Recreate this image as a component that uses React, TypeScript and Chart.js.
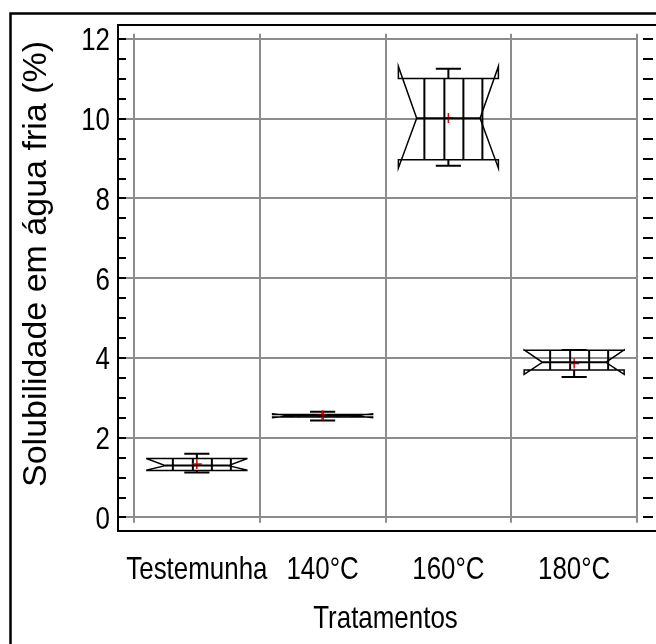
import React, { useEffect, useRef } from 'react';
import { Chart, registerables } from 'chart.js';

Chart.register(...registerables);

const categories = ['Testemunha', '140°C', '160°C', '180°C'];
const positions = [0.5, 1.5, 2.5, 3.5];
const whiskerLow = [1.13, 2.43, 8.82, 3.52];
const q1 = [1.18, 2.52, 8.97, 3.7];
const median = [1.3, 2.55, 10.01, 3.89];
const q3 = [1.48, 2.58, 11.01, 4.19];
const whiskerHigh = [1.6, 2.65, 11.25, 4.2];
const notchLow = [1.19, 2.5, 8.76, 3.59];
const notchHigh = [1.47, 2.6, 11.31, 4.2];
const means = [1.34, 2.56, 10.02, 3.86];
const yTickValues = [0, 2, 4, 6, 8, 10, 12];
const xGridValues = [0, 1, 2, 3, 4];
const xTitle = 'Tratamentos';
const yTitle = 'Solubilidade em água fria (%)';

const FONT = '"Liberation Sans", Arial, sans-serif';
const SQUEEZE = 0.81;
const HALF_W = 0.3976;
const INDENT = 0.183;

function squeezedText(ctx: any, text: string, x: number, y: number, align: string, size: number) {
  ctx.save();
  ctx.font = `${size}px ${FONT}`;
  ctx.fillStyle = '#000';
  ctx.textBaseline = 'alphabetic';
  ctx.textAlign = align;
  ctx.translate(x, y);
  ctx.scale(SQUEEZE, 1);
  ctx.fillText(text, 0, 0);
  ctx.restore();
}

const boxPlugin = {
  id: 'boxPlugin',
  beforeDraw(chart: any) {
    const ctx = chart.ctx;
    ctx.save();
    ctx.fillStyle = '#ffffff';
    ctx.fillRect(0, 0, chart.width, chart.height);
    ctx.strokeStyle = '#000';
    ctx.lineWidth = 2.5;
    ctx.beginPath();
    ctx.moveTo(10.5, chart.height + 10);
    ctx.lineTo(10.5, 13.5);
    ctx.lineTo(chart.width + 10, 13.5);
    ctx.stroke();
    ctx.restore();
  },
  beforeDatasetsDraw(chart: any) {
    const ctx = chart.ctx;
    const xs = chart.scales.x;
    const ys = chart.scales.y;
    const area = chart.chartArea;
    ctx.save();
    ctx.strokeStyle = 'rgb(140,140,140)';
    ctx.lineWidth = 2;
    const gx1 = xs.getPixelForValue(xGridValues[xGridValues.length - 1]);
    yTickValues.forEach((v) => {
      const y = Math.round(ys.getPixelForValue(v));
      ctx.beginPath();
      ctx.moveTo(area.left, y);
      ctx.lineTo(gx1, y);
      ctx.stroke();
    });
    const yTop = ys.getPixelForValue(12.13);
    const yBot = ys.getPixelForValue(-0.13);
    xGridValues.forEach((v) => {
      const x = Math.round(xs.getPixelForValue(v));
      ctx.beginPath();
      ctx.moveTo(x, yTop);
      ctx.lineTo(x, yBot);
      ctx.stroke();
    });
    ctx.strokeStyle = '#000';
    ctx.lineWidth = 2;
    for (let v = 0; v <= 12.001; v += 0.5) {
      const y = Math.round(ys.getPixelForValue(v));
      ctx.beginPath();
      ctx.moveTo(area.left, y);
      ctx.lineTo(area.left + 8, y);
      ctx.moveTo(area.right, y);
      ctx.lineTo(area.right - 10, y);
      ctx.stroke();
    }
    ctx.lineWidth = 2;
    ctx.beginPath();
    ctx.moveTo(chart.width + 2, area.top);
    ctx.lineTo(area.left, area.top);
    ctx.lineTo(area.left, area.bottom);
    ctx.lineTo(chart.width + 2, area.bottom);
    ctx.stroke();

    yTickValues.forEach((v) => {
      const y = ys.getPixelForValue(v);
      squeezedText(ctx, String(v), area.left - 8, y + 11.5, 'right', 32);
    });
    positions.forEach((p, i) => {
      squeezedText(ctx, categories[i], xs.getPixelForValue(p), 579, 'center', 32);
    });
    squeezedText(ctx, xTitle, (area.left + area.right) / 2, 628, 'center', 32);
    ctx.save();
    ctx.font = `34px ${FONT}`;
    ctx.fillStyle = '#000';
    ctx.textAlign = 'center';
    ctx.textBaseline = 'middle';
    ctx.translate(37, 264);
    ctx.rotate(-Math.PI / 2);
    ctx.fillText(yTitle, 0, 0);
    ctx.restore();

    const capHalf = 0.1;
    positions.forEach((p, i) => {
      const L = xs.getPixelForValue(p - HALF_W);
      const R = xs.getPixelForValue(p + HALF_W);
      const cx = xs.getPixelForValue(p);
      const w = R - L;
      const indent = w * INDENT;
      const yQ1 = ys.getPixelForValue(q1[i]);
      const yQ3 = ys.getPixelForValue(q3[i]);
      const yMed = ys.getPixelForValue(median[i]);
      const yNL = ys.getPixelForValue(notchLow[i]);
      const yNH = ys.getPixelForValue(notchHigh[i]);
      const yWL = ys.getPixelForValue(whiskerLow[i]);
      const yWH = ys.getPixelForValue(whiskerHigh[i]);
      const cL = xs.getPixelForValue(p - capHalf);
      const cR = xs.getPixelForValue(p + capHalf);
      ctx.strokeStyle = '#000';
      ctx.lineWidth = 2;
      [0.26, 0.46, 0.65, 0.84].forEach((f) => {
        const x = L + w * f;
        ctx.beginPath();
        ctx.moveTo(x, yQ3);
        ctx.lineTo(x, yQ1);
        ctx.stroke();
      });
      ctx.lineWidth = 1.5;
      ctx.beginPath();
      ctx.moveTo(L, yQ3);
      ctx.lineTo(L, yNH);
      ctx.lineTo(L + indent, yMed);
      ctx.lineTo(L, yNL);
      ctx.lineTo(L, yQ1);
      ctx.lineTo(R, yQ1);
      ctx.lineTo(R, yNL);
      ctx.lineTo(R - indent, yMed);
      ctx.lineTo(R, yNH);
      ctx.lineTo(R, yQ3);
      ctx.closePath();
      ctx.stroke();
      ctx.lineWidth = 2;
      ctx.beginPath();
      ctx.moveTo(cx, yQ3);
      ctx.lineTo(cx, yWH);
      ctx.moveTo(cL, yWH);
      ctx.lineTo(cR, yWH);
      ctx.moveTo(cx, yQ1);
      ctx.lineTo(cx, yWL);
      ctx.moveTo(cL, yWL);
      ctx.lineTo(cR, yWL);
      ctx.stroke();
    });
    ctx.restore();
  },
  afterDatasetsDraw(chart: any) {
    const ctx = chart.ctx;
    const xs = chart.scales.x;
    const ys = chart.scales.y;
    ctx.save();
    ctx.strokeStyle = '#000';
    ctx.lineWidth = 2;
    positions.forEach((p, i) => {
      const L = xs.getPixelForValue(p - HALF_W);
      const R = xs.getPixelForValue(p + HALF_W);
      const indent = (R - L) * INDENT;
      const yMed = ys.getPixelForValue(median[i]);
      ctx.beginPath();
      ctx.moveTo(L + indent, yMed);
      ctx.lineTo(R - indent, yMed);
      ctx.stroke();
    });
    ctx.restore();
  },
};

export default function App() {
  const ref = useRef<HTMLCanvasElement | null>(null);
  useEffect(() => {
    if (!ref.current) return;
    const chart = new Chart(ref.current, {
      type: 'scatter',
      data: {
        datasets: [
          {
            label: 'Média',
            data: positions.map((p, i) => ({ x: p, y: means[i] })),
            pointStyle: 'cross',
            radius: 5,
            borderColor: 'rgb(230,0,0)',
            backgroundColor: 'rgb(230,0,0)',
            borderWidth: 1.5,
          },
        ],
      },
      options: {
        animation: false,
        responsive: false,
        devicePixelRatio: 1,
        layout: { autoPadding: false, padding: { left: 0, top: 25, right: 3, bottom: 0 } },
        plugins: { legend: { display: false }, tooltip: { enabled: false } },
        scales: {
          x: {
            type: 'linear',
            min: -0.127,
            max: 4.127,
            ticks: { display: false },
            grid: { display: false, drawTicks: false },
            border: { display: false },
            title: { display: false },
            afterFit: (s: any) => {
              s.height = 113;
            },
          },
          y: {
            type: 'linear',
            min: -0.34,
            max: 12.35,
            ticks: { display: false },
            grid: { display: false, drawTicks: false },
            border: { display: false },
            title: { display: false },
            afterFit: (s: any) => {
              s.width = 118;
            },
          },
        },
      },
      plugins: [boxPlugin],
    });
    return () => chart.destroy();
  }, []);
  return (
    <div style={{ position: 'absolute', left: 0, top: 0, width: 656, height: 644 }}>
      <canvas ref={ref} width={656} height={644} />
    </div>
  );
}
